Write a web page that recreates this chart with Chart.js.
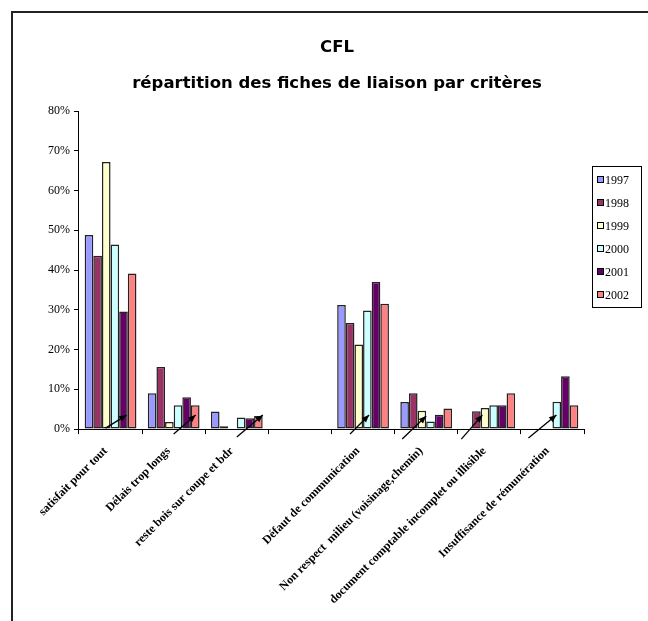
<!DOCTYPE html>
<html>
<head>
<meta charset="utf-8">
<title>CFL - répartition des fiches de liaison par critères</title>
<script src="https://cdn.jsdelivr.net/npm/chart.js@4.4.1/dist/chart.umd.min.js"></script>
<style>
    html, body { margin: 0; padding: 0; background: #fff; }
    #chart { display: block; }
</style>
</head>
<body>
<canvas id="chart" width="648" height="621"></canvas>
<script>
// categories (the empty one is a gap in the original sheet)
const categories = [
    'satisfait pour tout',
    'Délais trop longs',
    'reste bois sur coupe et bdr',
    '',
    'Défaut de communication',
    'Non respect  milieu (voisinage,chemin)',
    'document comptable incomplet ou illisible',
    'Insuffisance de rémunération'
];

// values in %
const values1997 = [48.8, 9.0, 4.4, null, 31.2, 6.8, 0, 0];
const values1998 = [43.6, 15.6, 0.7, null, 26.7, 9.0, 4.5, 0];
const values1999 = [67.2, 1.8, 0, null, 21.3, 4.6, 5.3, 0];
const values2000 = [46.4, 6.0, 2.9, null, 29.8, 1.9, 6.0, 6.9];
const values2001 = [29.6, 8.0, 2.7, null, 37.0, 3.6, 6.0, 13.3];
const values2002 = [39.1, 6.0, 3.3, null, 31.5, 5.2, 9.0, 6.0];

const seriesLabels = ['1997', '1998', '1999', '2000', '2001', '2002'];
const yTicks = [0, 10, 20, 30, 40, 50, 60, 70, 80];

const colors = ['#9999FF', '#993366', '#FFFFCC', '#CCFFFF', '#660066', '#FF8080'];
const allValues = [values1997, values1998, values1999, values2000, values2001, values2002];

// hand drawn arrows of the original: offsets from (category centre, x axis)
const arrows = [
    { cat: 0, x0: -5, y0: -1, x1: 16, y1: -14 },
    { cat: 1, x0: 0, y0: 5, x1: 22, y1: -14 },
    { cat: 2, x0: 0, y0: 8, x1: 26, y1: -14 },
    { cat: 4, x0: -13, y0: 5, x1: 6, y1: -14 },
    { cat: 5, x0: -24, y0: 10, x1: 0, y1: -13 },
    { cat: 6, x0: -28, y0: 10, x1: -7, y1: -14 },
    { cat: 7, x0: -24, y0: 9, x1: 4, y1: -14 }
];

const frameAndTitle = {
    id: 'frameAndTitle',
    beforeDraw(chart) {
        const ctx = chart.ctx;
        ctx.save();
        ctx.fillStyle = '#fff';
        ctx.fillRect(0, 0, chart.width, chart.height);
        ctx.strokeStyle = '#222';
        ctx.lineWidth = 2;
        ctx.beginPath();
        ctx.moveTo(12, chart.height + 2);
        ctx.lineTo(12, 12);
        ctx.lineTo(chart.width + 2, 12);
        ctx.stroke();

        ctx.fillStyle = '#000';
        ctx.textAlign = 'center';
        ctx.textBaseline = 'middle';
        ctx.font = 'bold 16.5px "DejaVu Sans"';
        ctx.fillText('CFL', 337, 48);
        ctx.fillText('répartition des fiches de liaison par critères', 337, 84);
        ctx.restore();
    },
    afterDraw(chart) {
        const ctx = chart.ctx;
        const xs = chart.scales.x;
        const baseY = chart.scales.y.getPixelForValue(0);
        ctx.save();

        // arrows
        ctx.strokeStyle = '#000';
        ctx.fillStyle = '#000';
        ctx.lineWidth = 1.3;
        arrows.forEach(a => {
            const cx = xs.getPixelForValue(a.cat);
            const x0 = cx + a.x0, y0 = baseY + a.y0;
            const x1 = cx + a.x1, y1 = baseY + a.y1;
            const ang = Math.atan2(y1 - y0, x1 - x0);
            ctx.beginPath();
            ctx.moveTo(x0, y0);
            ctx.lineTo(x1, y1);
            ctx.stroke();
            ctx.beginPath();
            ctx.moveTo(x1, y1);
            ctx.lineTo(x1 - 8 * Math.cos(ang - 0.4), y1 - 8 * Math.sin(ang - 0.4));
            ctx.lineTo(x1 - 8 * Math.cos(ang + 0.4), y1 - 8 * Math.sin(ang + 0.4));
            ctx.closePath();
            ctx.fill();
        });

        // legend
        ctx.lineWidth = 1;
        ctx.strokeStyle = '#000';
        ctx.strokeRect(592.5, 166.5, 49, 141);
        ctx.font = '12px "Liberation Serif"';
        ctx.textAlign = 'left';
        ctx.textBaseline = 'middle';
        chart.data.datasets.forEach((ds, i) => {
            const y = 180 + i * 23;
            ctx.fillStyle = ds.backgroundColor;
            ctx.fillRect(597, y - 3, 6, 6);
            ctx.strokeRect(597.5, y - 3.5, 6, 6);
            ctx.fillStyle = '#000';
            ctx.fillText(ds.label, 605, y + 0.5);
        });
        ctx.restore();
    }
};

new Chart(document.getElementById('chart'), {
    type: 'bar',
    data: {
        labels: categories,
        datasets: seriesLabels.map((label, i) => ({
            label: label,
            data: allValues[i],
            backgroundColor: colors[i],
            borderColor: '#222',
            borderWidth: 1.5,
            borderSkipped: false,
            categoryPercentage: 0.82,
            barPercentage: 1.0
        }))
    },
    options: {
        responsive: false,
        animation: false,
        layout: {
            padding: { top: 111, right: 64, bottom: 4, left: 44 }
        },
        font: { family: '"Liberation Serif"' },
        plugins: {
            legend: { display: false },
            tooltip: { enabled: false }
        },
        scales: {
            x: {
                grid: {
                    drawOnChartArea: false,
                    color: '#000',
                    tickLength: 5
                },
                border: { color: '#000', width: 1 },
                ticks: {
                    color: '#000',
                    autoSkip: false,
                    minRotation: 45,
                    maxRotation: 45,
                    padding: 10,
                    labelOffset: -5,
                    font: { family: '"Liberation Serif"', size: 12, weight: 'bold' }
                }
            },
            y: {
                min: 0,
                max: 80,
                afterBuildTicks: axis => {
                    axis.ticks = yTicks.map(v => ({ value: v }));
                },
                grid: {
                    drawOnChartArea: false,
                    color: '#000',
                    tickLength: 5
                },
                border: { color: '#000', width: 1 },
                ticks: {
                    color: '#000',
                    padding: 4,
                    callback: v => v + '%',
                    font: { family: '"Liberation Serif"', size: 12 }
                }
            }
        }
    },
    plugins: [frameAndTitle]
});
</script>
</body>
</html>
